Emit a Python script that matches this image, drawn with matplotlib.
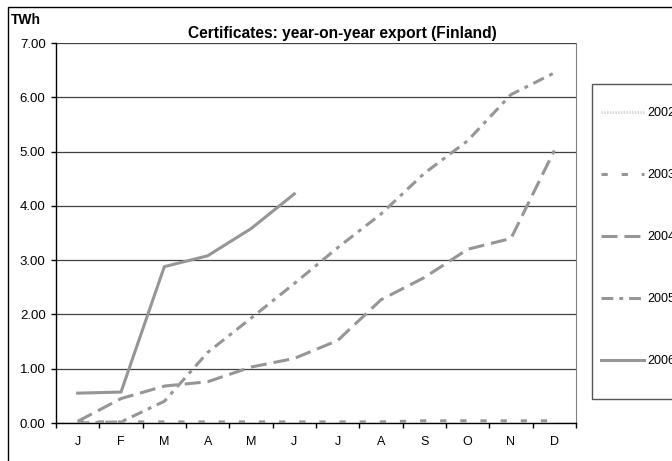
import matplotlib
matplotlib.use('Agg')
import matplotlib.pyplot as plt
from matplotlib.patches import Rectangle

plt.rcParams['font.family'] = ['Liberation Sans', 'DejaVu Sans']
plt.rcParams['lines.scale_dashes'] = False

months = ['J', 'F', 'M', 'A', 'M', 'J', 'J', 'A', 'S', 'O', 'N', 'D']
years = ['2002', '2003', '2004', '2005', '2006']

export_2002 = [0.0, 0.0, 0.0, 0.0, 0.0, 0.0, 0.0, 0.0, 0.0, 0.0, 0.0, 0.0]
export_2003 = [0.02, 0.02, 0.02, 0.02, 0.02, 0.02, 0.02, 0.02, 0.04, 0.04, 0.04, 0.04]
export_2004 = [0.03, 0.45, 0.68, 0.76, 1.03, 1.19, 1.52, 2.27, 2.68, 3.2, 3.4, 5.02]
export_2005 = [0.0, 0.02, 0.4, 1.3, 1.93, 2.57, 3.23, 3.85, 4.6, 5.2, 6.05, 6.45]
export_2006 = [0.55, 0.57, 2.88, 3.08, 3.58, 4.22]

W, H = 672, 461
fig = plt.figure(figsize=(W / 100, H / 100), dpi=100)
# outer chart border
fig.patches.append(Rectangle((8 / W, -0.05), 1.1, 1 - 7 / H + 0.05, transform=fig.transFigure,
                             fill=False, edgecolor='black', lw=1.0))
# legend frame (runs off the right edge like the original)
fig.patches.append(Rectangle((592 / W, 1 - 399 / H), 0.5, 315 / H, transform=fig.transFigure,
                             fill=False, edgecolor='#555555', lw=1.0))

ax = fig.add_axes([56 / W, 1 - 423 / H, 520 / W, 380 / H])

grey = '#969696'
x = list(range(12))
ax.plot(x, export_2002, color='#d4d4d4', lw=2.0, ls=(0, (1, 1)), label=years[0], zorder=3)
ax.plot(x, export_2003, color=grey, lw=2.2, ls=(0, (4.5, 10)), label=years[1], zorder=3)
ax.plot(x, export_2004, color=grey, lw=2.2, ls=(0, (11.5, 5)), label=years[2], zorder=3)
ax.plot(x, export_2005, color=grey, lw=2.2, ls=(0, (8.5, 4.3, 2.8, 4.3)), label=years[3], zorder=3)
ax.plot(x[:len(export_2006)], export_2006, color=grey, lw=2.2, ls='-', label=years[4], zorder=3)

ax.set_xlim(-0.5, 11.5)
ax.set_ylim(0, 7)
ax.set_yticks(range(8))
ax.set_yticklabels([f'{v:.2f}' for v in range(8)], fontsize=9.5)
ax.set_xticks(x)
ax.set_xticklabels(months, fontsize=9)
ax.set_xticks([i - 0.5 for i in range(13)], minor=True)
ax.tick_params(axis='x', which='major', length=0, pad=9)
ax.tick_params(axis='x', which='minor', length=3.5, width=1, direction='out')
ax.tick_params(axis='y', length=3.5, width=1, direction='out', pad=4)

ax.grid(axis='y', color='#404040', lw=0.9, zorder=1)
ax.set_axisbelow(True)
ax.spines['top'].set_visible(False)
ax.spines['right'].set_color('#808080')
ax.spines['left'].set_linewidth(1.0)
ax.spines['bottom'].set_linewidth(1.0)

fig.text(11 / W, 1 - 20 / H, 'TWh', fontsize=10, fontweight='bold', va='center', ha='left')
fig.text(342 / W, 1 - 33 / H, 'Certificates: year-on-year export (Finland)',
         fontsize=11.2, fontweight='bold', va='center', ha='center')

fig.legend(loc='upper left', bbox_to_anchor=(601 / W, 1 - 107 / H), fontsize=9,
           frameon=False, borderaxespad=0, borderpad=0,
           handlelength=3.45, handletextpad=0.25, labelspacing=4.0)

fig.savefig('out.png', dpi=100)
